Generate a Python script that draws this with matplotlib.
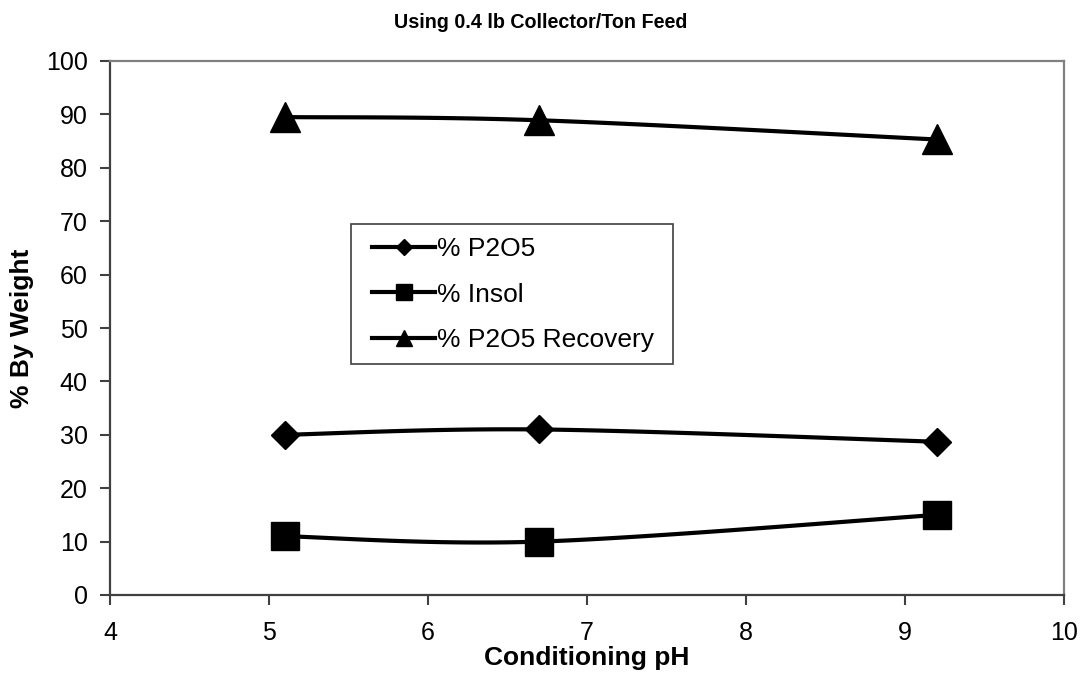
import numpy as np
import matplotlib
matplotlib.use("Agg")
import matplotlib.pyplot as plt
from matplotlib.path import Path
from matplotlib.patches import Rectangle

plt.rcParams['font.family'] = ['Liberation Sans', 'DejaVu Sans']

# Flotation results vs. conditioning pH
ph = [5.1, 6.7, 9.2]
p2o5 = [30.0, 31.0, 28.7]
insol = [11.0, 10.0, 15.0]
recovery = [89.5, 88.9, 85.3]

series = [
    ("% P2O5", p2o5, "D", 14.5, 8.0),
    ("% Insol", insol, "s", 20, 12.0),
    ("% P2O5 Recovery", recovery, "^", 21, 12.0),
]

W, H = 1083, 680


def smooth_path(xs, ys):
    """Cubic Bezier through the points (spreadsheet-style smoothed line)."""
    xs = np.asarray(xs, float)
    ys = np.asarray(ys, float)
    n = len(xs)
    verts = [(xs[0], ys[0])]
    codes = [Path.MOVETO]
    for i in range(n - 1):
        p0 = np.array([xs[max(i - 1, 0)], ys[max(i - 1, 0)]])
        p1 = np.array([xs[i], ys[i]])
        p2 = np.array([xs[i + 1], ys[i + 1]])
        p3 = np.array([xs[min(i + 2, n - 1)], ys[min(i + 2, n - 1)]])
        c1 = p1 + (p2 - p0) / 6.0
        c2 = p2 - (p3 - p1) / 6.0
        verts += [tuple(c1), tuple(c2), tuple(p2)]
        codes += [Path.CURVE4] * 3
    return Path(verts, codes)


def bezier_points(path, steps=60):
    v = path.vertices
    out = [v[0]]
    for k in range(1, len(v), 3):
        p0, c1, c2, p1 = v[k - 1], v[k], v[k + 1], v[k + 2]
        t = np.linspace(0, 1, steps)[1:, None]
        pts = ((1 - t) ** 3) * p0 + 3 * ((1 - t) ** 2) * t * c1 \
            + 3 * (1 - t) * t ** 2 * c2 + t ** 3 * p1
        out.extend(pts)
    return np.array(out)


fig = plt.figure(figsize=(W / 100, H / 100), dpi=100)
ax = fig.add_axes([110 / W, 1 - 595 / H, (1064 - 110) / W, (595 - 61) / H])

handles = []
for label, vals, marker, ms, legend_ms in series:
    pts = bezier_points(smooth_path(ph, vals))
    ax.plot(pts[:, 0], pts[:, 1], color="black", lw=3, solid_capstyle="round", zorder=2)
    ax.plot(ph, vals, linestyle="none", marker=marker, markersize=ms,
            color="black", zorder=3)
    h, = ax.plot([], [], color="black", lw=3, marker=marker,
                 markersize=legend_ms, label=label)
    handles.append(h)

ax.set_xlim(4, 10)
ax.set_ylim(0, 100)
ax.set_xticks(np.arange(4, 11, 1))
ax.set_yticks(np.arange(0, 101, 10))
ax.tick_params(direction="out", length=7, width=1.5, color="#404040",
               labelsize=18)
ax.tick_params(axis="y", pad=9)
ax.tick_params(axis="x", pad=12)

for side in ("left", "bottom"):
    ax.spines[side].set_color("#404040")
    ax.spines[side].set_linewidth(1.6)
for side in ("top", "right"):
    ax.spines[side].set_color("#808080")
    ax.spines[side].set_linewidth(1.6)

ax.set_xlabel("Conditioning pH", fontsize=19, fontweight="bold")
ax.set_ylabel("% By Weight", fontsize=19, fontweight="bold")
ax.xaxis.set_label_coords(0.5, -(646 - 595) / 534)
ax.yaxis.set_label_coords(-(110 - 34) / 954, (595 - 328) / 534)
fig.text(541 / W, 1 - 22 / H, "Using 0.4 lb Collector/Ton Feed",
         ha="center", va="center", fontsize=14.2, fontweight="bold")

# legend box drawn separately so the horizontal padding can differ from the vertical
box = Rectangle((351 / W, 1 - 364 / H), (673 - 351) / W, (364 - 224) / H,
                transform=fig.transFigure, facecolor="white",
                edgecolor="#404040", linewidth=1.2, zorder=4)
fig.add_artist(box)
leg = fig.legend(handles=handles, loc="upper left",
                 bbox_to_anchor=(372 / W, 1 - 237 / H),
                 fontsize=19, frameon=False, handlelength=2.4,
                 handletextpad=0.05, borderpad=0, labelspacing=0.82,
                 borderaxespad=0)
leg.set_zorder(5)

fig.savefig("out.png", dpi=100)
